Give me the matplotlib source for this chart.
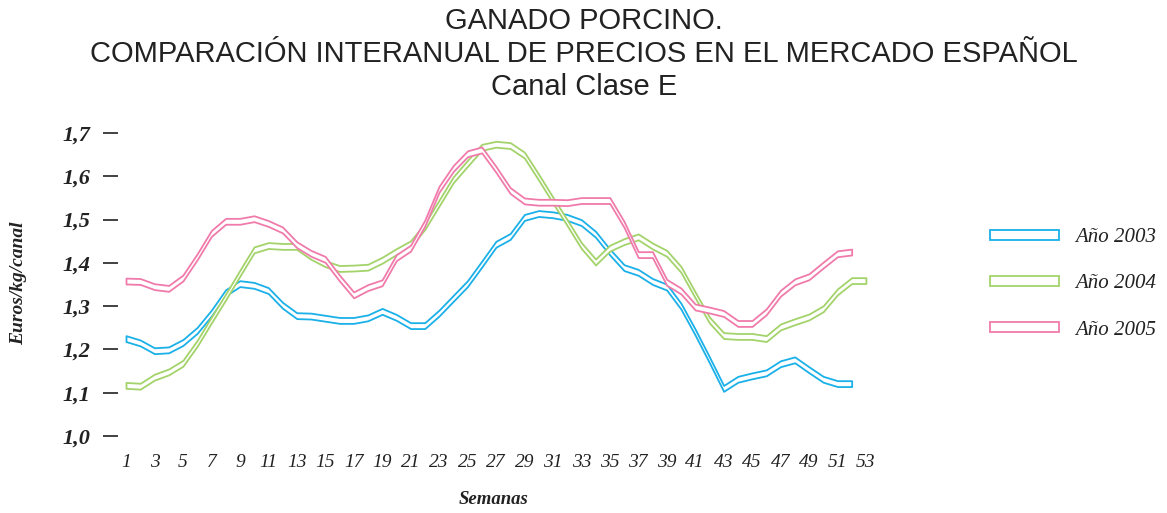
import matplotlib
matplotlib.use('Agg')
import matplotlib.pyplot as plt
from matplotlib.patches import Patch
import numpy as np

# ---- datos (euros/kg canal, por semana) ----
semanas_2003 = list(range(1, 53))
precios_2003 = [1.225, 1.215, 1.197, 1.199, 1.216, 1.244, 1.284, 1.331, 1.352, 1.348,
                1.336, 1.302, 1.278, 1.277, 1.272, 1.267, 1.267, 1.273, 1.288, 1.274,
                1.255, 1.255, 1.284, 1.318, 1.352, 1.397, 1.443, 1.461, 1.505, 1.514,
                1.511, 1.505, 1.493, 1.466, 1.425, 1.389, 1.378, 1.357, 1.344, 1.300,
                1.240, 1.176, 1.110, 1.131, 1.139, 1.146, 1.167, 1.176, 1.153, 1.131,
                1.121, 1.121]

semanas_2004 = list(range(1, 54))
precios_2004 = [1.117, 1.115, 1.136, 1.148, 1.168, 1.214, 1.268, 1.321, 1.376, 1.430,
                1.440, 1.438, 1.438, 1.415, 1.398, 1.387, 1.388, 1.390, 1.406, 1.426,
                1.444, 1.484, 1.538, 1.592, 1.630, 1.667, 1.674, 1.671, 1.649, 1.598,
                1.545, 1.493, 1.440, 1.402, 1.434, 1.449, 1.460, 1.439, 1.422, 1.385,
                1.326, 1.268, 1.232, 1.230, 1.230, 1.225, 1.252, 1.264, 1.275, 1.294,
                1.333, 1.359, 1.359]

semanas_2005 = list(range(1, 53))
precios_2005 = [1.358, 1.357, 1.345, 1.341, 1.365, 1.414, 1.468, 1.496, 1.496, 1.502,
                1.491, 1.476, 1.442, 1.422, 1.408, 1.365, 1.326, 1.343, 1.354, 1.412,
                1.434, 1.492, 1.570, 1.618, 1.652, 1.661, 1.616, 1.567, 1.543, 1.540,
                1.540, 1.539, 1.544, 1.544, 1.544, 1.489, 1.419, 1.419, 1.355, 1.335,
                1.298, 1.291, 1.283, 1.260, 1.260, 1.287, 1.330, 1.356, 1.368, 1.395,
                1.421, 1.425]

etiquetas = ['Año 2003', 'Año 2004', 'Año 2005']
colores = ['#1ab0e8', '#a3d36a', '#f07bab']

y_ticks = [1.0, 1.1, 1.2, 1.3, 1.4, 1.5, 1.6, 1.7]
x_ticks = list(range(1, 54, 2))

W, H = 1167, 513
fig = plt.figure(figsize=(W / 100, H / 100), dpi=100)

# ejes en pixeles: x 118..880, y 133..436
ax = fig.add_axes([118 / W, 1 - 436 / H, 762 / W, 303 / H])

series = [(semanas_2003, precios_2003), (semanas_2004, precios_2004), (semanas_2005, precios_2005)]
d = 0.0068  # media anchura de la linea doble
for (x, y), c in zip(series, colores):
    x = np.array(x)
    y = np.array(y)
    ax.fill_between(x, y - d, y + d, facecolor='white', edgecolor=c, linewidth=1.3, clip_on=False)

ax.set_xlim(0.438, 53.99)
ax.set_ylim(1.0, 1.7)

for s in ax.spines.values():
    s.set_visible(False)

serif = 'Liberation Serif'
ax.set_yticks(y_ticks)
ax.set_yticklabels([f'{v:.1f}'.replace('.', ',') for v in y_ticks],
                   fontfamily=serif, fontstyle='italic', fontweight='bold', fontsize=16, color='#222222')
ax.tick_params(axis='y', direction='out', length=11, width=1.3, color='#333333', pad=9)

ax.set_xticks(x_ticks)
ax.set_xticklabels([str(v) for v in x_ticks], fontfamily=serif, fontstyle='italic', fontsize=14,
                   color='#222222')
ax.tick_params(axis='x', length=0, pad=13)

fig.text(494 / W, 1 - 500 / H, 'Semanas', ha='center', va='center', fontfamily=serif,
         fontstyle='italic', fontweight='bold', fontsize=13.5, color='#222222')
fig.text(19 / W, 1 - 283 / H, 'Euros/kg/canal', ha='center', va='center', rotation=90,
         fontfamily=serif, fontstyle='italic', fontweight='bold', fontsize=14, color='#222222')

titulo = ['GANADO PORCINO.',
          'COMPARACIÓN INTERANUAL DE PRECIOS EN EL MERCADO ESPAÑOL',
          'Canal Clase E']
for i, t in enumerate(titulo):
    fig.text(584 / W, 1 - (21 + 33 * i) / H, t, ha='center', va='center',
             fontfamily='Liberation Sans', fontsize=21, color='#222222')

handles = [Patch(facecolor='white', edgecolor=c, linewidth=1.3) for c in colores]
leg = fig.legend(handles, etiquetas, loc='center left', bbox_to_anchor=(990 / W, 1 - 284 / H),
                 frameon=False, handlelength=3.3, handleheight=0.4, handletextpad=0.8,
                 labelspacing=1.3, borderaxespad=0, borderpad=0,
                 prop={'family': serif, 'style': 'italic', 'size': 15})
for t in leg.get_texts():
    t.set_color('#222222')

fig.savefig('out.png', dpi=100)
